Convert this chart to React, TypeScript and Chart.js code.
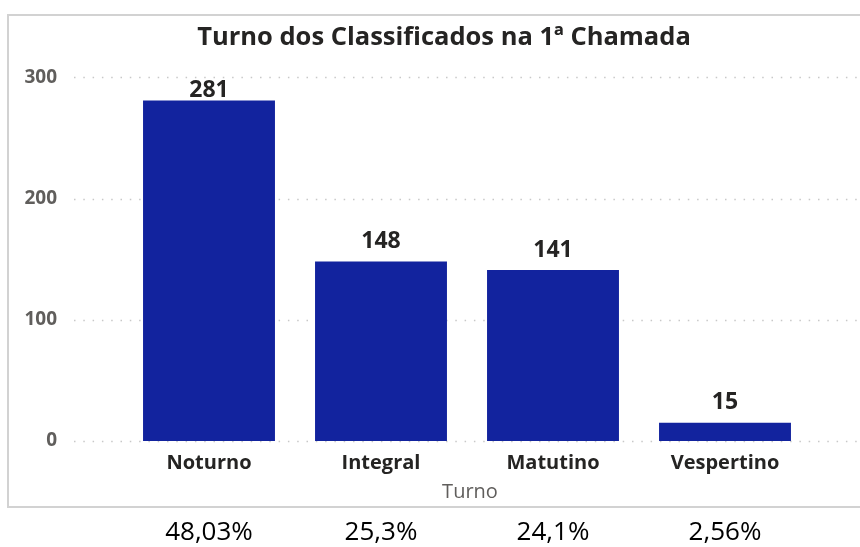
import React, { useEffect, useRef } from "react";
import { Chart, registerables } from "chart.js";

Chart.register(...registerables);

const titleText = "Turno dos Classificados na 1ª Chamada";
const categories = ["Noturno", "Integral", "Matutino", "Vespertino"];
const values = [281, 148, 141, 15];
const percentLabels = ["48,03%", "25,3%", "24,1%", "2,56%"];
const yTicks = [0, 100, 200, 300];
const xAxisTitle = "Turno";

const FONT = "'Open Sans', 'Noto Sans', sans-serif";
const BAR = "#12239E";

const framePlugin = {
  id: "frame",
  beforeDraw(chart: any) {
    const ctx = chart.ctx;
    ctx.save();
    ctx.fillStyle = "#ffffff";
    ctx.fillRect(0, 0, chart.width, chart.height);
    ctx.strokeStyle = "#d2d2d2";
    ctx.lineWidth = 2;
    ctx.strokeRect(8, 15, 880, 492);
    ctx.restore();
  },
  beforeDatasetsDraw(chart: any) {
    const ctx = chart.ctx;
    const y = chart.scales.y;
    ctx.save();
    ctx.strokeStyle = "#c8c8c8";
    ctx.lineWidth = 1.5;
    ctx.setLineDash([1.5, 7.8]);
    yTicks.forEach((t) => {
      const py = Math.round(y.getPixelForValue(t)) + 0.5;
      ctx.beginPath();
      ctx.moveTo(74, py);
      ctx.lineTo(860, py);
      ctx.stroke();
    });
    ctx.restore();
  },
  afterDatasetsDraw(chart: any) {
    const ctx = chart.ctx;
    const meta = chart.getDatasetMeta(0);
    const area = chart.chartArea;
    const xs = chart.scales.x;
    ctx.save();
    ctx.textAlign = "center";
    ctx.textBaseline = "middle";
    // title
    ctx.fillStyle = "#252423";
    ctx.font = `bold 25.5px ${FONT}`;
    ctx.fillText(titleText, 444, 38);
    // data labels
    ctx.font = `bold 23px ${FONT}`;
    meta.data.forEach((bar: any, i: number) => {
      const yy = Math.max(bar.y - 20, area.top + 13);
      ctx.fillText(String(values[i]), bar.x, yy);
    });
    // axis title
    ctx.fillStyle = "#605E5C";
    ctx.font = `20px ${FONT}`;
    ctx.fillText(xAxisTitle, (xs.left + xs.right) / 2 + 3, 492);
    // percentages
    ctx.fillStyle = "#000000";
    ctx.font = `26px ${FONT}`;
    meta.data.forEach((bar: any, i: number) => {
      ctx.fillText(percentLabels[i], bar.x, 533);
    });
    ctx.restore();
  },
};

export default function App() {
  const ref = useRef<HTMLCanvasElement | null>(null);
  useEffect(() => {
    if (!ref.current) return;
    const chart = new Chart(ref.current, {
      type: "bar",
      data: {
        labels: categories,
        datasets: [
          {
            data: values,
            backgroundColor: BAR,
            borderWidth: 0,
            categoryPercentage: 1,
            barPercentage: 0.767,
          },
        ],
      },
      options: {
        responsive: false,
        animation: false,
        layout: { padding: { left: 10, right: 49, top: 75, bottom: 62 } },
        plugins: {
          legend: { display: false },
          tooltip: { enabled: false },
          title: { display: false },
        },
        scales: {
          x: {
            grid: { display: false, drawTicks: false },
            border: { display: false },
            ticks: {
              color: "#252423",
              font: { family: FONT, size: 20, weight: "bold" },
              padding: 10,
              maxRotation: 0,
            },
          },
          y: {
            min: 0,
            max: 300,
            afterFit: (s: any) => {
              s.width = 113;
            },
            afterBuildTicks: (s: any) => {
              s.ticks = yTicks.map((v) => ({ value: v }));
            },
            grid: { display: false, drawTicks: false },
            border: { display: false },
            ticks: {
              color: "#605E5C",
              font: { family: FONT, size: 19, weight: "bold" },
              padding: 66,
            },
          },
        },
      },
      plugins: [framePlugin],
    });
    return () => chart.destroy();
  }, []);
  return (
    <div style={{ position: "absolute", left: 0, top: 0, width: 860, height: 547 }}>
      <canvas ref={ref} width={860} height={547} />
    </div>
  );
}
